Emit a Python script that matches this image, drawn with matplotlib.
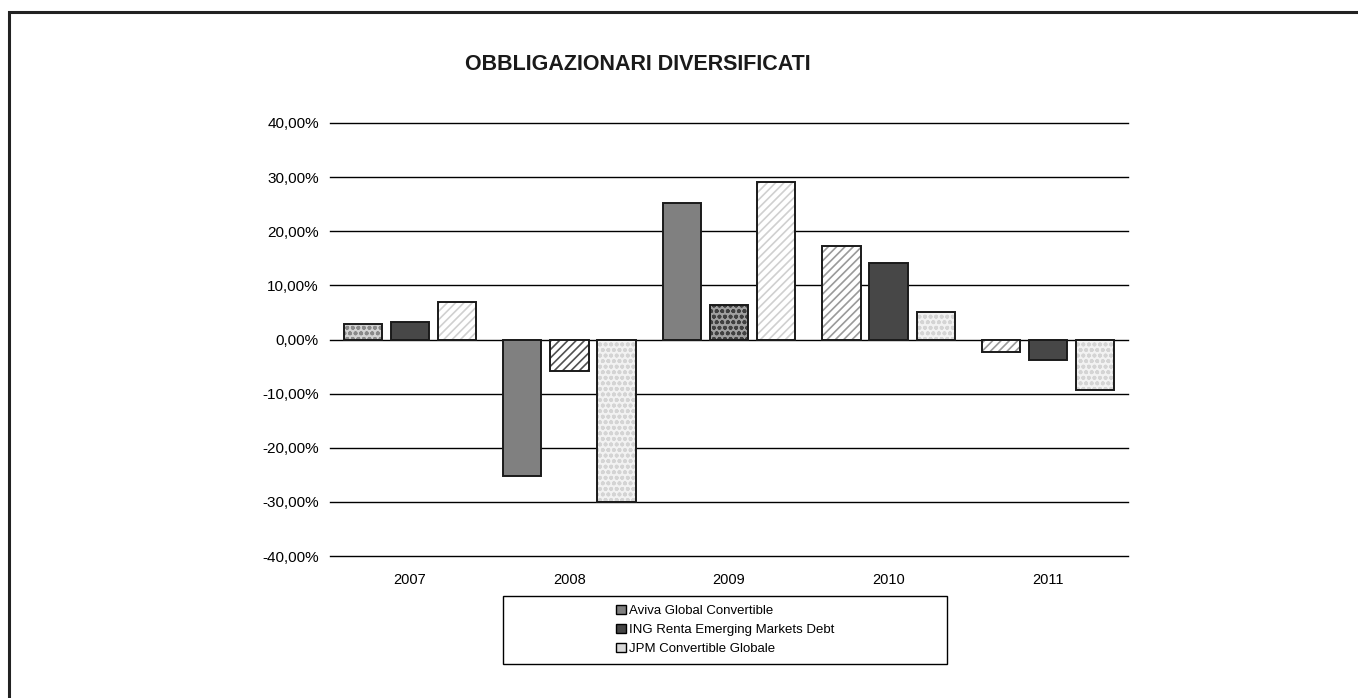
import numpy as np
import matplotlib.pyplot as plt
from matplotlib.patches import Rectangle, Patch

plt.rcParams['font.family'] = ['Liberation Sans', 'DejaVu Sans']
plt.rcParams['hatch.linewidth'] = 1.2

years = ['2007', '2008', '2009', '2010', '2011']
series = ['Aviva Global Convertible', 'ING Renta Emerging Markets Debt', 'JPM Convertible Globale']
aviva = [2.9, -25.2, 25.3, 17.2, -2.4]
ing = [3.2, -5.9, 6.4, 14.2, -3.7]
jpm = [6.9, -30.0, 29.1, 5.0, -9.4]
yticks = [-40, -30, -20, -10, 0, 10, 20, 30, 40]
legend_colors = ['#808080', '#454545', '#d8d8d8']

# fill per bar (face, hatch, hatch colour) -- the sheet varied patterns by point
styles = [
    [('#d4d4d4', 'ooo', '#8a8a8a'), ('#474747', '', None), ('white', '////', '#d0d0d0')],
    [('#808080', '', None), ('white', '////', '#505050'), ('#f2f2f2', 'ooo', '#d4d4d4')],
    [('#9a9a9a', '', None), ('#a0a0a0', 'ooo', '#404040'), ('white', '////', '#d0d0d0')],
    [('white', '////', '#9a9a9a'), ('#474747', '', None), ('#f2f2f2', 'ooo', '#d4d4d4')],
    [('white', '////', '#9a9a9a'), ('#474747', '', None), ('#f2f2f2', 'ooo', '#d4d4d4')],
]
styles[2][0] = ('#808080', '', None)

fig = plt.figure(figsize=(13.58, 6.98), dpi=100)
ax = fig.add_axes([330 / 1358, 1 - 556 / 698, 798 / 1358, 433 / 698])

x = np.arange(len(years))
w = 0.24
offs = [-0.295, 0, 0.295]
data = [aviva, ing, jpm]
for i in range(len(years)):
    for s in range(3):
        face, hatch, hc = styles[i][s]
        xi = x[i] + offs[s]
        if hatch:
            ax.bar(xi, data[s][i], w, color=face, hatch=hatch, edgecolor=hc, linewidth=0, zorder=2)
        else:
            ax.bar(xi, data[s][i], w, color=face, linewidth=0, zorder=2)
        ax.bar(xi, data[s][i], w, fill=False, edgecolor='#1a1a1a', linewidth=1.4, zorder=3)

ax.set_xlim(-0.5, len(years) - 0.5)
ax.set_ylim(-40, 40)
ax.set_yticks(yticks)
ax.set_yticklabels(['%d,00%%' % v for v in yticks], fontsize=11)
ax.set_xticks(x)
ax.set_xticklabels(years, fontsize=10.5)
ax.tick_params(axis='y', length=0, pad=8)
ax.tick_params(axis='x', length=0, pad=12)
for v in yticks:
    ax.axhline(v, color='black', linewidth=1.0, zorder=1, clip_on=False)
for sp in ax.spines.values():
    sp.set_visible(False)

fig.text(638 / 1358, 1 - 64 / 698, 'OBBLIGAZIONARI DIVERSIFICATI', ha='center', va='center',
         fontsize=15.5, fontweight='bold', color='#1a1a1a')

# outer chart frame (cut by image edge)
fig.patches.append(Rectangle((9 / 1358, -0.1), 1.2, 1 - 12 / 698 + 0.1, transform=fig.transFigure,
                             fill=False, edgecolor='#222222', linewidth=2.2))

# legend box
fig.patches.append(Rectangle((503 / 1358, 1 - 664 / 698), 444 / 1358, 68 / 698,
                             transform=fig.transFigure, fill=False, edgecolor='black', linewidth=1.0))
handles = [Patch(facecolor=c, edgecolor='black', linewidth=1.0) for c in legend_colors]
fig.legend(handles, series, loc='center', bbox_to_anchor=(725 / 1358, 1 - 630 / 698),
           frameon=False, fontsize=9.5, handlelength=0.75, handleheight=0.75,
           handletextpad=0.2, labelspacing=0.5)

plt.savefig('out.png', dpi=100)
